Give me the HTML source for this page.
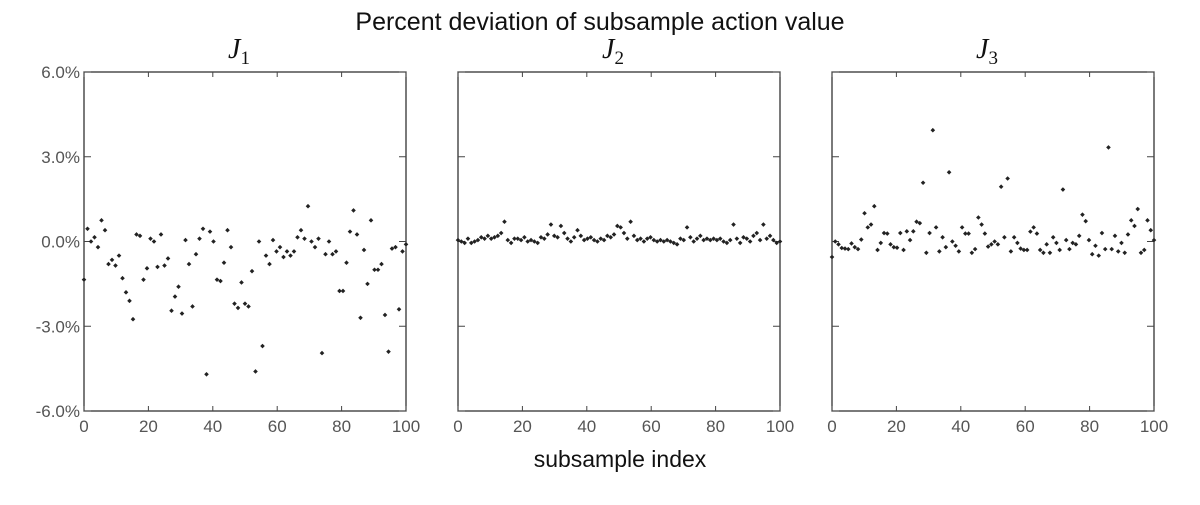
<!DOCTYPE html>
<html><head><meta charset="utf-8">
<style>
body{margin:0;background:#fff;}
svg text{font-family:"Liberation Sans",sans-serif;}
</style></head>
<body>
<svg id="chart" width="1200" height="500" xmlns="http://www.w3.org/2000/svg"></svg>
<script>
const xTicks=[0,20,40,60,80,100];
const yTicks=[6,3,0,-3,-6];
const yTickLabels=["6.0%","3.0%","0.0%","-3.0%","-6.0%"];
const panelTitles=["1","2","3"];
const j1=[-1.35,0.45,0.0,0.15,-0.2,0.75,0.4,-0.8,-0.65,-0.85,-0.5,-1.3,-1.8,-2.1,-2.75,0.25,0.2,-1.35,-0.95,0.1,0.0,-0.9,0.25,-0.85,-0.6,-2.45,-1.95,-1.6,-2.55,0.05,-0.8,-2.3,-0.45,0.1,0.45,-4.7,0.35,0.0,-1.35,-1.4,-0.75,0.4,-0.2,-2.2,-2.35,-1.45,-2.2,-2.3,-1.05,-4.6,0.0,-3.7,-0.5,-0.8,0.05,-0.35,-0.2,-0.55,-0.35,-0.5,-0.35,0.15,0.4,0.1,1.25,0.0,-0.2,0.1,-3.95,-0.45,0.0,-0.45,-0.35,-1.75,-1.75,-0.75,0.35,1.1,0.25,-2.7,-0.3,-1.5,0.75,-1.0,-1.0,-0.8,-2.6,-3.9,-0.25,-0.2,-2.4,-0.35,-0.1];
const j2=[0.05,0.0,-0.05,0.1,-0.05,0.0,0.05,0.15,0.1,0.2,0.1,0.15,0.2,0.3,0.7,0.05,-0.05,0.1,0.1,0.05,0.15,0.0,0.05,0.0,-0.05,0.15,0.1,0.25,0.6,0.2,0.15,0.55,0.3,0.1,0.0,0.15,0.4,0.2,0.05,0.1,0.15,0.05,0.0,0.1,0.05,0.2,0.15,0.25,0.55,0.5,0.3,0.1,0.7,0.2,0.05,0.1,0.0,0.1,0.15,0.05,0.0,0.05,0.0,0.05,0.0,-0.05,-0.1,0.1,0.05,0.5,0.15,0.0,0.1,0.2,0.05,0.1,0.05,0.1,0.05,0.1,0.0,-0.05,0.05,0.6,0.1,-0.05,0.15,0.1,0.0,0.2,0.3,0.05,0.6,0.1,0.2,0.05,-0.05,0.0];
const j3=[-0.55,0.0,-0.1,-0.23,-0.25,-0.27,-0.07,-0.2,-0.27,0.07,1.0,0.5,0.6,1.25,-0.3,-0.05,0.3,0.28,-0.1,-0.2,-0.22,0.3,-0.3,0.36,0.05,0.36,0.7,0.65,2.08,-0.4,0.3,3.94,0.5,-0.35,0.15,-0.2,2.45,0.0,-0.15,-0.35,0.5,0.28,0.28,-0.4,-0.27,0.85,0.6,0.28,-0.18,-0.1,0.0,-0.1,1.94,0.15,2.23,-0.35,0.15,-0.05,-0.25,-0.3,-0.3,0.35,0.5,0.28,-0.3,-0.4,-0.1,-0.4,0.15,-0.05,-0.3,1.84,0.05,-0.27,-0.05,-0.1,0.2,0.95,0.72,0.05,-0.45,-0.15,-0.5,0.3,-0.27,3.33,-0.27,0.2,-0.35,-0.05,-0.4,0.25,0.75,0.55,1.15,-0.4,-0.3,0.75,0.4,0.05];
const series=[j1,j2,j3];
const NS="http://www.w3.org/2000/svg";
const svg=document.getElementById('chart');
function mk(tag,attrs,parent){const e=document.createElementNS(NS,tag);for(const k in attrs)e.setAttribute(k,attrs[k]);(parent||svg).appendChild(e);return e;}
const panelX=[84,458,832],PW=322,PT=72,PB=411;
function yS(v){return PT+(6-v)/12*(PB-PT);}
let t=mk('text',{x:600,y:30,'text-anchor':'middle','font-size':25,fill:'#111'});


t.textContent='Percent deviation of subsample action value';
t=mk('text',{x:620,y:467,'text-anchor':'middle','font-size':23,fill:'#111'});


t.textContent='subsample index';
series.forEach((data,p)=>{
  const x0=panelX[p];
  const xS=v=>x0+v/100*PW;
  const g=mk('g',{});
  
  
  const tt=mk('text',{x:x0+PW/2-6,y:58,'text-anchor':'middle','font-size':28,'font-style':'italic',fill:'#111',style:'font-family:"Liberation Serif",serif'},g);
  
  
  tt.textContent='J';
  const sub=mk('tspan',{'font-size':19,'font-style':'normal',dy:6},tt);sub.textContent=panelTitles[p];
  const r=mk('rect',{x:x0,y:PT,width:PW,height:PB-PT,fill:'none',stroke:'#222','stroke-width':1.2},g);
  
  
  xTicks.forEach(v=>{
    const x=xS(v);
    mk('line',{x1:x,x2:x,y1:PB,y2:PB-5,stroke:'#444'},g);
    mk('line',{x1:x,x2:x,y1:PT,y2:PT+5,stroke:'#444'},g);
    const l=mk('text',{x:x,y:PB+21,'text-anchor':'middle','font-size':17,fill:'#555'},g);
    
    
    l.textContent=v;
  });
  yTicks.forEach((v,i)=>{
    const y=yS(v);
    mk('line',{x1:x0,x2:x0+7,y1:y,y2:y,stroke:'#444'},g);
    mk('line',{x1:x0+PW,x2:x0+PW-7,y1:y,y2:y,stroke:'#444'},g);
    if(p===0){
      const l=mk('text',{x:x0-4,y:y+6,'text-anchor':'end','font-size':17,fill:'#555'},g);
      
      
      l.textContent=yTickLabels[i];
    }
  });
  data.forEach((v,i)=>{
    const cx=xS(i*100/(data.length-1)),cy=yS(v);
    const d=mk('path',{d:`M${cx} ${cy-2.3}L${cx+2.3} ${cy}L${cx} ${cy+2.3}L${cx-2.3} ${cy}Z`,fill:'#222'},g);
    
    
  });
});
</script>
</body></html>
